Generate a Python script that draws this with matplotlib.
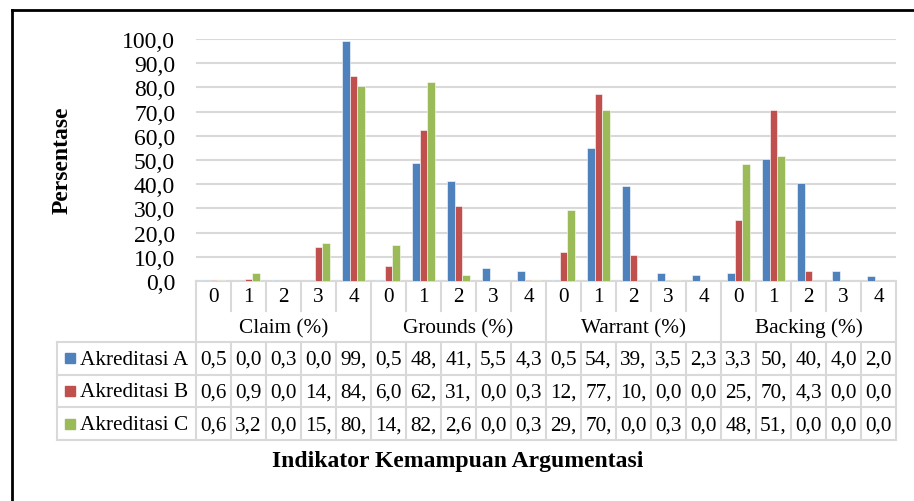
import numpy as np
import matplotlib.pyplot as plt

plt.rcParams['font.family'] = ['Liberation Serif', 'DejaVu Serif']

groups = ['Claim (%)', 'Grounds (%)', 'Warrant (%)', 'Backing (%)']
levels = ['0', '1', '2', '3', '4']
series = ['Akreditasi A', 'Akreditasi B', 'Akreditasi C']
colors = ['#4F81BD', '#C0504D', '#9BBB59']

# values per group: Claim 0-4, Grounds 0-4, Warrant 0-4, Backing 0-4
akr_a = [0.5, 0.0, 0.3, 0.0, 99.3,
         0.5, 48.7, 41.2, 5.5, 4.3,
         0.5, 54.8, 39.1, 3.5, 2.3,
         3.3, 50.6, 40.3, 4.0, 2.0]
akr_b = [0.6, 0.9, 0.0, 14.1, 84.6,
         6.0, 62.6, 31.0, 0.0, 0.3,
         12.0, 77.1, 10.9, 0.0, 0.0,
         25.1, 70.8, 4.3, 0.0, 0.0]
akr_c = [0.6, 3.2, 0.0, 15.5, 80.7,
         14.8, 82.3, 2.6, 0.0, 0.3,
         29.2, 70.5, 0.0, 0.3, 0.0,
         48.4, 51.6, 0.0, 0.0, 0.0]
data = [akr_a, akr_b, akr_c]

W, H = 914, 502
fig = plt.figure(figsize=(W / 100, H / 100), dpi=100)

# plot area in pixels
px0, px1 = 196, 896
py_top, py_bot = 40, 282
ax = fig.add_axes([px0 / W, 1 - py_bot / H, (px1 - px0) / W, (py_bot - py_top) / H])

n = len(akr_a)
x = np.arange(n)
bw = 0.22
for i, vals in enumerate(data):
    ax.bar(x + (i - 1) * bw, vals, width=bw, color=colors[i], edgecolor='white',
           linewidth=0.4, zorder=3)

ax.set_xlim(-0.5, n - 0.5)
ax.set_ylim(0, 100)
ax.set_yticks(np.arange(0, 101, 10))
ax.set_yticklabels([f'{v:.1f}'.replace('.', ',') for v in np.arange(0, 101, 10)], fontsize=17)
ax.tick_params(axis='y', length=0, pad=15)
ax.set_xticks([])
ax.yaxis.grid(True, color='#d9d9d9', linewidth=1.5, zorder=0)
for s in ['top', 'right', 'left']:
    ax.spines[s].set_visible(False)
ax.spines['bottom'].set_color('#d9d9d9')
ax.spines['bottom'].set_linewidth(1.5)

# overlay in pixel coordinates for table, titles and frame
ov = fig.add_axes([0, 0, 1, 1], facecolor='none')
ov.set_xlim(0, W)
ov.set_ylim(H, 0)
ov.axis('off')

colw = (px1 - px0) / n
lc = '#d9d9d9'
lw = 1.5
leg_x0 = 57
row_cat = (282, 312)
row_grp = (312, 343)
row_y = [343, 375.7, 408.3, 441]
fs = 15.3

# category row dividers
for k in range(n + 1):
    xx = px0 + k * colw
    if k % 5 == 0:
        ov.plot([xx, xx], [row_cat[0], row_y[-1]], color=lc, lw=lw)
    else:
        ov.plot([xx, xx], [row_cat[0], row_cat[1]], color=lc, lw=lw)
        ov.plot([xx, xx], [row_y[0], row_y[-1]], color=lc, lw=lw)
for k in range(n):
    ov.text(px0 + (k + 0.5) * colw, (row_cat[0] + row_cat[1]) / 2 + 1, levels[k % 5],
            ha='center', va='center', fontsize=fs)
for g, name in enumerate(groups):
    ov.text(px0 + (g * 5 + 2.5) * colw, (row_grp[0] + row_grp[1]) / 2 + 1, name,
            ha='center', va='center', fontsize=fs)

# series rows
for yy in row_y:
    ov.plot([leg_x0, px1], [yy, yy], color=lc, lw=lw)
ov.plot([leg_x0, leg_x0], [row_y[0], row_y[-1]], color=lc, lw=lw)
for r, name in enumerate(series):
    yc = (row_y[r] + row_y[r + 1]) / 2
    ov.add_patch(plt.Rectangle((65, yc - 5), 10, 10, color=colors[r]))
    ov.text(80, yc + 1, name, ha='left', va='center', fontsize=fs)
    for k, v in enumerate(data[r]):
        lab = f'{v:.1f}'.replace('.', ',')[:3]
        ov.text(px0 + (k + 0.5) * colw, yc + 1, lab, ha='center', va='center', fontsize=fs)

ov.text(458, 462, 'Indikator Kemampuan Argumentasi', ha='center', va='center',
        fontsize=17, fontweight='bold')
ov.text(62, 160, 'Persentase', ha='center', va='center', rotation=90,
        fontsize=17, fontweight='bold')

# outer frame (left and top visible)
ov.plot([12, 12], [11, H], color='black', lw=2)
ov.plot([12, W], [11, 11], color='black', lw=2)

fig.savefig('out.png', dpi=100)
